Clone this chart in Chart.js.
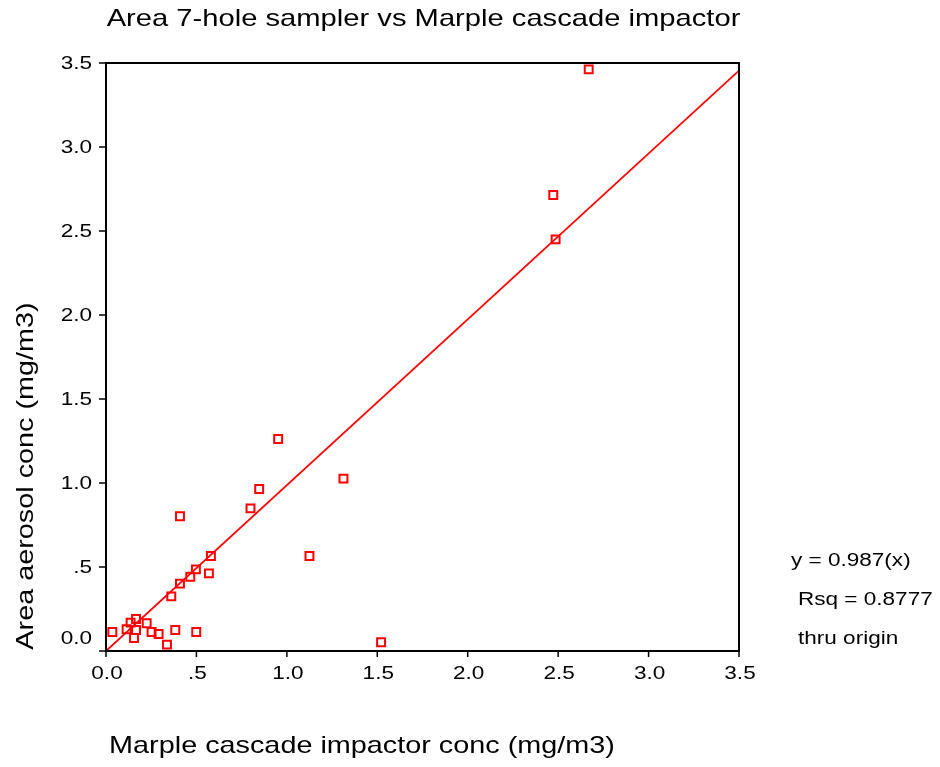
<!DOCTYPE html>
<html>
<head>
<meta charset="utf-8">
<title>Area 7-hole sampler vs Marple cascade impactor</title>
<script src="https://cdn.jsdelivr.net/npm/chart.js@4/dist/chart.umd.min.js"></script>
<style>
  html, body { margin: 0; padding: 0; background: #ffffff; }
  #wrap { width: 940px; height: 767px; }
</style>
</head>
<body>
<div id="wrap"><canvas id="chart" width="940" height="767"></canvas></div>
<script>
// Marple cascade impactor concentration (mg/m3)
const marpleConc = [2.669, 2.473, 2.486, 0.952, 1.313, 0.847, 0.799, 0.409, 1.125, 0.580,
                    0.497, 0.569, 0.466, 0.409, 0.361, 0.166, 0.136, 0.225, 0.114, 0.166,
                    0.035, 0.252, 0.291, 0.383, 0.499, 0.155, 0.337, 1.521];
// Area 7-hole sampler aerosol concentration (mg/m3)
const areaConc   = [3.462, 2.714, 2.450, 1.262, 1.026, 0.964, 0.849, 0.802, 0.565, 0.565,
                    0.486, 0.462, 0.442, 0.401, 0.325, 0.190, 0.169, 0.165, 0.129, 0.125,
                    0.113, 0.113, 0.101, 0.125, 0.113, 0.077, 0.038, 0.052];

// Linear fit through the origin
const fitSlope = 0.987;
const fitRsq = 0.8777;

// Axis ticks
const tickValues = [0, 0.5, 1.0, 1.5, 2.0, 2.5, 3.0, 3.5];
const tickLabels = ['0.0', '.5', '1.0', '1.5', '2.0', '2.5', '3.0', '3.5'];
const axisMin = 0, axisMax = 3.5;

const chartTitle = 'Area 7-hole sampler vs Marple cascade impactor';
const xTitle = 'Marple cascade impactor conc (mg/m3)';
const yTitle = 'Area aerosol conc (mg/m3)';
const fitNotes = ['y = ' + fitSlope.toFixed(3) + '(x)', 'Rsq = ' + fitRsq.toFixed(4), 'thru origin'];

const FONT = '"Liberation Sans", Arial, Helvetica, sans-serif';
const STRETCH = 1.2; // glyphs are set a little wide

function stretchedText(ctx, text, x, y, size, align, baseline, angle, stretch) {
  ctx.save();
  ctx.translate(x, y);
  if (angle) ctx.rotate(angle);
  ctx.scale(stretch || STRETCH, 1);
  ctx.font = size + 'px ' + FONT;
  ctx.fillStyle = '#000000';
  ctx.textAlign = align;
  ctx.textBaseline = baseline;
  ctx.fillText(text, 0, 0);
  ctx.restore();
}

const frameAndText = {
  id: 'frameAndText',
  afterDatasetsDraw(chart) {
    const ctx = chart.ctx;
    const a = chart.chartArea;
    const xs = chart.scales.x, ys = chart.scales.y;

    // plot frame
    ctx.save();
    ctx.strokeStyle = '#000000';
    ctx.lineWidth = 2;
    ctx.strokeRect(a.left, a.top, a.right - a.left, a.bottom - a.top);

    // tick marks
    ctx.lineWidth = 1.5;
    ctx.beginPath();
    tickValues.forEach(v => {
      const px = xs.getPixelForValue(v);
      ctx.moveTo(px, a.bottom);
      ctx.lineTo(px, a.bottom + 6);
      const py = ys.getPixelForValue(v);
      ctx.moveTo(a.left, py);
      ctx.lineTo(a.left - 7, py);
    });
    ctx.stroke();
    ctx.restore();

    // tick labels
    tickValues.forEach((v, i) => {
      const px = xs.getPixelForValue(v);
      stretchedText(ctx, tickLabels[i], px + 1, a.bottom + 28, 18.8, 'center', 'alphabetic');
      const py = Math.min(ys.getPixelForValue(v), a.bottom - 13);
      stretchedText(ctx, tickLabels[i], a.left - 14, py + 1, 18.8, 'right', 'middle');
    });

    // titles
    stretchedText(ctx, chartTitle, (a.left + a.right) / 2 + 1, 26, 24, 'center', 'alphabetic', 0, 1.215);
    stretchedText(ctx, xTitle, 362, 753, 24, 'center', 'alphabetic');
    stretchedText(ctx, yTitle, 33, 476, 24, 'center', 'alphabetic', -Math.PI / 2);

    // fit annotation
    stretchedText(ctx, fitNotes[0], 791, 566, 18.8, 'left', 'alphabetic');
    stretchedText(ctx, fitNotes[1], 798, 605, 18.8, 'left', 'alphabetic');
    stretchedText(ctx, fitNotes[2], 798, 644, 18.8, 'left', 'alphabetic');
  }
};

const points = marpleConc.map((x, i) => ({ x: x, y: areaConc[i] }));
const fitLine = [axisMin, axisMax].map(x => ({ x: x, y: fitSlope * x }));

new Chart(document.getElementById('chart'), {
  type: 'scatter',
  data: {
    datasets: [
      {
        type: 'line',
        label: 'fit',
        data: fitLine,
        borderColor: '#ff0000',
        borderWidth: 1.8,
        pointRadius: 0,
        fill: false,
        tension: 0
      },
      {
        label: 'samples',
        data: points,
        pointStyle: 'rect',
        pointRadius: 5.6,
        pointHoverRadius: 5.6,
        borderColor: '#ff0000',
        backgroundColor: 'rgba(255,255,255,0)',
        borderWidth: 2
      }
    ]
  },
  options: {
    responsive: false,
    animation: false,
    events: [],
    layout: { padding: { left: 0, top: 63, right: 201, bottom: 0 } },
    plugins: {
      legend: { display: false },
      title: { display: false },
      tooltip: { enabled: false }
    },
    scales: {
      x: {
        type: 'linear',
        min: axisMin, max: axisMax,
        ticks: { display: false },
        grid: { display: false },
        border: { display: false },
        afterFit(s) { s.height = 116; }
      },
      y: {
        type: 'linear',
        min: axisMin, max: axisMax,
        ticks: { display: false },
        grid: { display: false },
        border: { display: false },
        afterFit(s) { s.width = 106; }
      }
    }
  },
  plugins: [frameAndText]
});
</script>
</body>
</html>
